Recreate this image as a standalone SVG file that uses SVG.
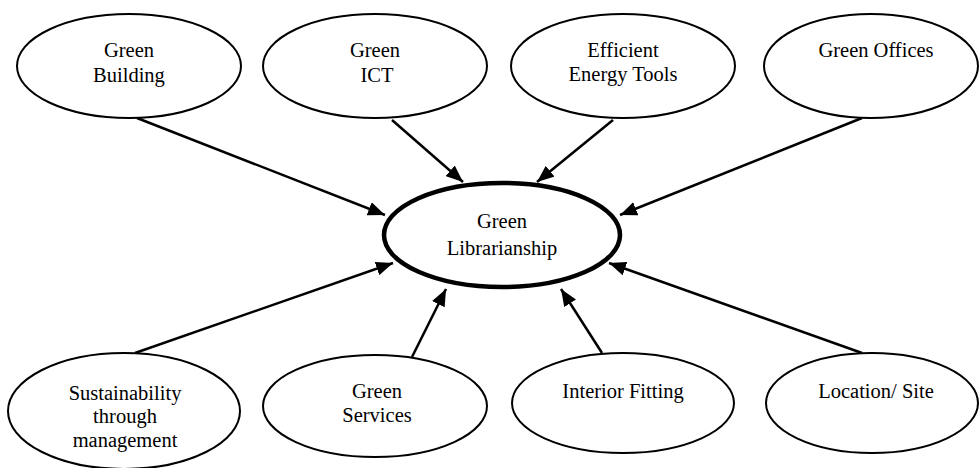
<svg xmlns="http://www.w3.org/2000/svg" width="979" height="468" viewBox="0 0 979 468">
  <style>
    .node ellipse { fill: #fff; stroke: #000; stroke-width: 2; }
    #center ellipse { stroke-width: 4.5; }
    text { font-family: "Liberation Serif", "Times New Roman", serif; font-size: 20.5px; fill: #000; text-anchor: middle; }
    .edge { stroke: #000; stroke-width: 2.5; fill: none; marker-end: url(#arrow); }
  </style>
  <defs>
    <marker id="arrow" markerUnits="userSpaceOnUse" markerWidth="18" markerHeight="14" refX="17" refY="7" orient="auto">
      <path d="M0,0 L17,7 L0,14 Z" fill="#000"/>
    </marker>
  </defs>

  <rect width="979" height="468" fill="#fff"/>

  <!-- arrows pointing into the central node -->
  <g id="connectors">
    <line class="edge" x1="137" y1="118" x2="385" y2="215"/>
    <line class="edge" x1="392" y1="120" x2="463" y2="182"/>
    <line class="edge" x1="613" y1="120" x2="537" y2="182"/>
    <line class="edge" x1="862" y1="118" x2="620" y2="215"/>
    <line class="edge" x1="135" y1="353" x2="393" y2="263"/>
    <line class="edge" x1="412" y1="357" x2="446" y2="289"/>
    <line class="edge" x1="602" y1="353" x2="561" y2="289"/>
    <line class="edge" x1="862" y1="353" x2="609" y2="263"/>
  </g>

  <g id="center" class="node">
    <ellipse cx="502" cy="235" rx="118" ry="52"/>
    <text x="502" y="228">Green</text>
    <text x="502" y="255">Librarianship</text>
  </g>

  <g id="green-building" class="node">
    <ellipse cx="129" cy="66" rx="112" ry="52"/>
    <text x="129" y="57">Green</text>
    <text x="129" y="82">Building</text>
  </g>

  <g id="green-ict" class="node">
    <ellipse cx="375" cy="66" rx="112" ry="52"/>
    <text x="375" y="57">Green</text>
    <text x="377" y="82">ICT</text>
  </g>

  <g id="efficient-energy-tools" class="node">
    <ellipse cx="623" cy="66" rx="112" ry="52"/>
    <text x="623" y="57">Efficient</text>
    <text x="623" y="81">Energy Tools</text>
  </g>

  <g id="green-offices" class="node">
    <ellipse cx="871" cy="66" rx="107" ry="52"/>
    <text x="876" y="57">Green Offices</text>
  </g>

  <g id="sustainability" class="node">
    <ellipse cx="124" cy="411" rx="116" ry="58"/>
    <text x="125" y="400">Sustainability</text>
    <text x="125" y="423">through</text>
    <text x="125" y="447">management</text>
  </g>

  <g id="green-services" class="node">
    <ellipse cx="375" cy="406" rx="112" ry="51"/>
    <text x="377" y="398">Green</text>
    <text x="377" y="422">Services</text>
  </g>

  <g id="interior-fitting" class="node">
    <ellipse cx="623" cy="403" rx="111" ry="50"/>
    <text x="623" y="398">Interior Fitting</text>
  </g>

  <g id="location-site" class="node">
    <ellipse cx="872" cy="403" rx="106" ry="50"/>
    <text x="876" y="398">Location/ Site</text>
  </g>
</svg>
